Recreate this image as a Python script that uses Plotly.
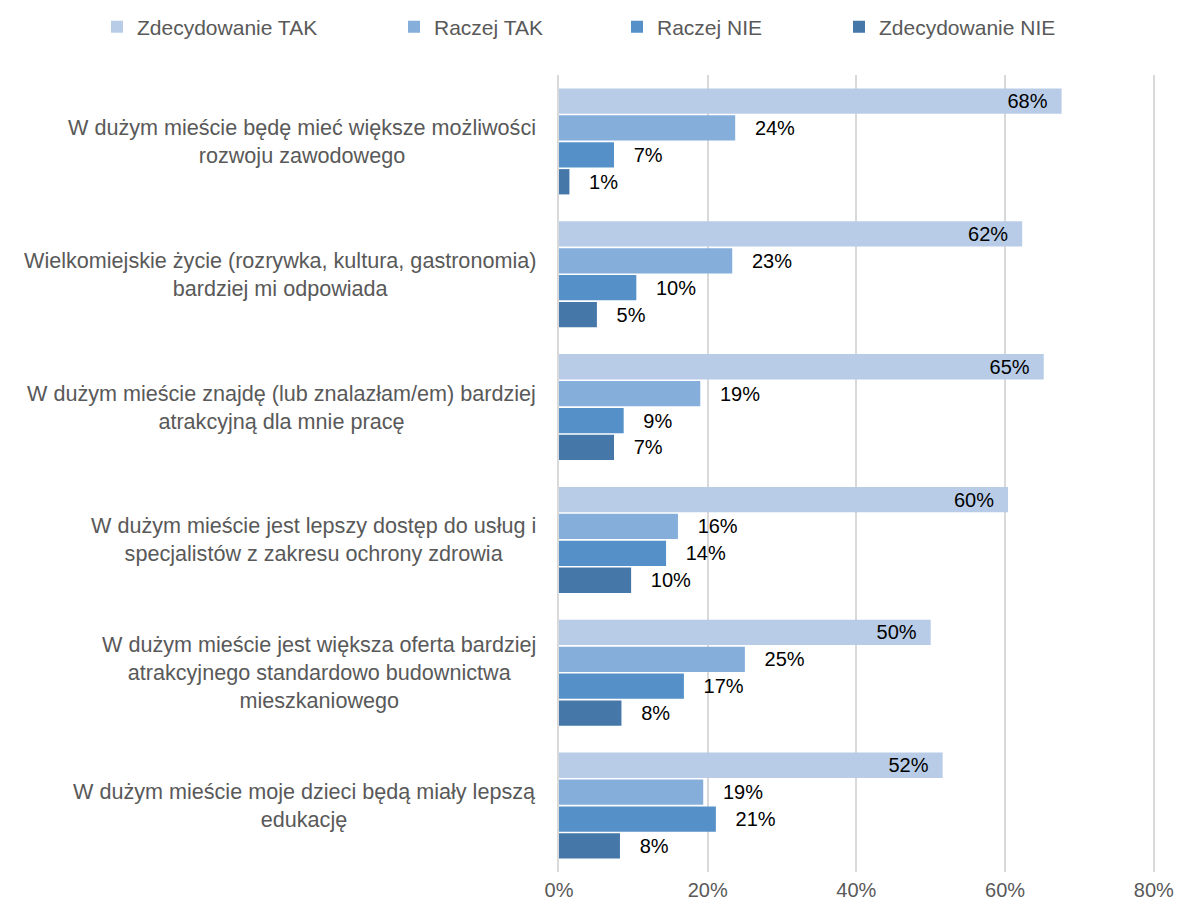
import plotly.graph_objects as go

categories = [
    "W dużym mieście będę mieć większe możliwości<br>rozwoju zawodowego",
    "Wielkomiejskie życie (rozrywka, kultura, gastronomia)<br>bardziej mi odpowiada",
    "W dużym mieście znajdę (lub znalazłam/em) bardziej<br>atrakcyjną dla mnie pracę",
    "W dużym mieście jest lepszy dostęp do usług i<br>specjalistów z zakresu ochrony zdrowia",
    "W dużym mieście jest większa oferta bardziej<br>atrakcyjnego standardowo budownictwa<br>mieszkaniowego",
    "W dużym mieście moje dzieci będą miały lepszą<br>edukację",
]
series_names = ["Zdecydowanie TAK", "Raczej TAK", "Raczej NIE", "Zdecydowanie NIE"]
zdec_tak = [67.6, 62.3, 65.2, 60.4, 50.0, 51.6]
raczej_tak = [23.7, 23.3, 19.0, 16.0, 25.0, 19.4]
raczej_nie = [7.4, 10.4, 8.7, 14.4, 16.8, 21.1]
zdec_nie = [1.4, 5.1, 7.4, 9.7, 8.4, 8.2]
x_ticks = [0, 20, 40, 60, 80]

colors = ["#B8CCE8", "#85AEDB", "#5591C8", "#4677A9"]
values = [zdec_tak, raczej_tak, raczej_nie, zdec_nie]
legend_ids = ["legend", "legend2", "legend3", "legend4"]
legend_x = [97, 394, 617, 839]  # px, left edge of each legend box
NB = "\u00a0"
GRAY = "#595959"

fig = go.Figure()
for i, (name, vals) in enumerate(zip(series_names, values)):
    inside = i == 0
    fig.add_trace(go.Bar(
        y=categories, x=vals, name=name, orientation="h",
        legend=legend_ids[i],
        marker=dict(color=colors[i], line=dict(width=0)),
        texttemplate=("%{x:.0f}%" + NB * 2) if inside else (NB * 3 + "%{x:.0f}%"),
        textposition="inside" if inside else "outside",
        insidetextanchor="end",
        textfont=dict(color="black", size=20),
        constraintext="none",
        cliponaxis=False,
        hoverinfo="skip",
    ))

# category labels: block right-aligned next to the axis, lines centred within it
for cat in categories:
    fig.add_annotation(
        x=-0.035, xref="paper", y=cat, yref="y", text=cat, showarrow=False,
        xanchor="right", align="center",
        font=dict(size=21.6, color=GRAY),
    )

legends = {}
for lid, lx in zip(legend_ids, legend_x):
    legends[lid] = dict(x=lx / 1177, xref="container", xanchor="left",
                        y=1 - 27 / 911, yref="container", yanchor="middle",
                        font=dict(size=21, color=GRAY), bgcolor="rgba(0,0,0,0)")

fig.update_layout(
    width=1177, height=911,
    barmode="group", bargap=0.19, bargroupgap=0.06,
    plot_bgcolor="white", paper_bgcolor="white",
    font=dict(family="Liberation Sans, Arial, sans-serif", size=20, color=GRAY),
    margin=dict(l=559, r=21, t=75, b=39, autoexpand=False),
    showlegend=True,
    **legends,
)
fig.update_xaxes(range=[0, 80.3], tickvals=x_ticks, ticktext=[f"{v}%" for v in x_ticks],
                 showgrid=True, gridcolor="#D9D9D9", gridwidth=2, zeroline=False,
                 showline=False, ticks="", tickfont=dict(size=20, color=GRAY),
                 ticklabelstandoff=4, automargin=False)
fig.update_yaxes(autorange="reversed", showticklabels=False, showgrid=False,
                 zeroline=False, showline=True, linecolor="#D9D9D9", linewidth=2,
                 automargin=False)

fig.write_html("out.html", config={"displayModeBar": False},
               post_script="document.body.style.margin='0';")
